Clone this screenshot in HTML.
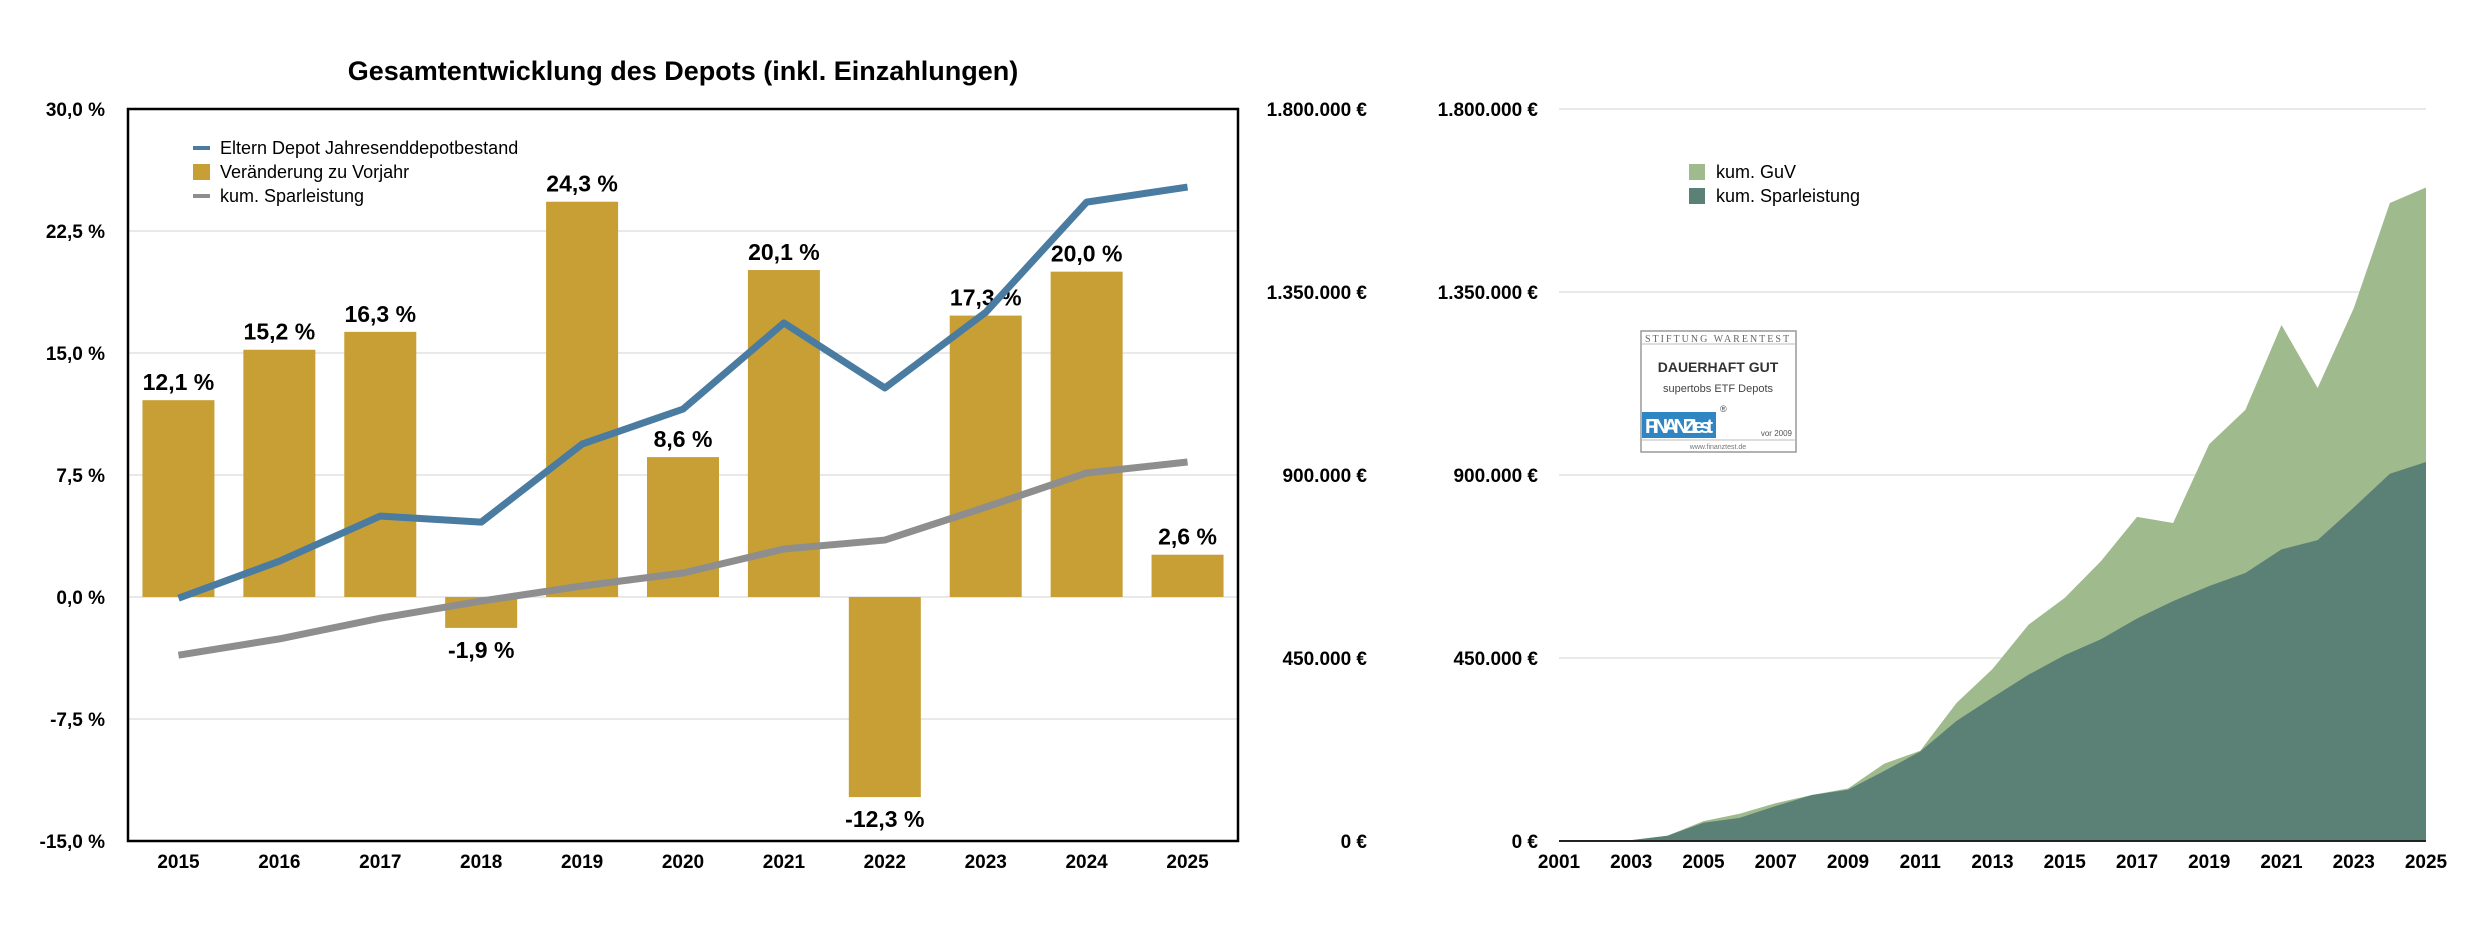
<!DOCTYPE html>
<html><head><meta charset="utf-8">
<style>
html,body{margin:0;padding:0;background:#fff;}
svg{display:block;font-family:"Liberation Sans",Arial,sans-serif;}
</style></head>
<body>
<svg id="c" width="2472" height="928" viewBox="0 0 2472 928" xmlns="http://www.w3.org/2000/svg">
<text x="683" y="80" text-anchor="middle" font-size="27" font-weight="bold">Gesamtentwicklung des Depots (inkl. Einzahlungen)</text>
<g id="left"></g>
<g id="right"></g>
</svg>
<script>
const years = ['2015','2016','2017','2018','2019','2020','2021','2022','2023','2024','2025'];
const pctChange = [12.1,15.2,16.3,-1.9,24.3,8.6,20.1,-12.3,17.3,20.0,2.6];
const depotValue = [597000,688000,799000,784000,976000,1062000,1274000,1114000,1300000,1571000,1608000];
const savingsLeft = [457000,497000,548000,590000,627000,659000,718000,740000,821000,905000,932000];
const pctTicks = [30,22.5,15,7.5,0,-7.5,-15];
const eurTicks = [1800000,1350000,900000,450000,0];

const areaYears = [];
for (let y=2001;y<=2025;y++) areaYears.push(y);
const areaTotal = [0,0,2000,13000,49000,67000,93000,113000,129000,190000,222000,339000,423000,532000,598000,688000,797000,782000,976000,1060000,1269000,1114000,1310000,1569000,1607000];
const areaSavings = [0,0,2000,13000,45000,57000,86000,113000,126000,172000,220000,295000,353000,409000,457000,496000,547000,590000,627000,659000,717000,740000,820000,903000,932000];

const NS='http://www.w3.org/2000/svg';
function mk(tag, attrs, parent, text){
  const e=document.createElementNS(NS,tag);
  for(const k in attrs) e.setAttribute(k,attrs[k]);
  if(text!==undefined) e.textContent=text;
  parent.appendChild(e); return e;
}
function fmtPct(v){return v.toFixed(1).replace('.',',')+' %';}
function fmtEur(v){return v.toString().replace(/\B(?=(\d{3})+(?!\d))/g,'.')+' €';}

// ---------- LEFT CHART ----------
const L=document.getElementById('left');
const px0=128, px1=1238, py0=109, py1=841;
const yP = v => py0 + (30 - v)/45*(py1-py0);
const yE = v => py1 - v/1800000*(py1-py0);
const band=(px1-px0)/years.length;
const xC = i => px0 + band*(i+0.5);

pctTicks.forEach((t,i)=>{
  if(t!==30 && t!==-15){
    const g=mk('line',{x1:px0,x2:px1,y1:yP(t),y2:yP(t),stroke:'#e2e2e2','stroke-width':1.5},L);
    
    
  }
  const tx=mk('text',{x:105,y:yP(t)+7,'text-anchor':'end','font-size':19,'font-weight':'bold'},L,fmtPct(t));
  
  
});
eurTicks.forEach(t=>{
  const tx=mk('text',{x:1367,y:yE(t)+7,'text-anchor':'end','font-size':19,'font-weight':'bold'},L,fmtEur(t));
  
  
});
years.forEach((yr,i)=>{
  const v=pctChange[i];
  const top=Math.min(yP(v),yP(0)), h=Math.abs(yP(v)-yP(0));
  const b=mk('rect',{x:xC(i)-36,y:top,width:72,height:h,fill:'#c89f35'},L);
  
  
  const ly = v>=0 ? yP(v)-10 : yP(v)+30;
  const t=mk('text',{x:xC(i),y:ly,'text-anchor':'middle','font-size':23,'font-weight':'bold'},L,fmtPct(v));
  
  
  const xl=mk('text',{x:xC(i),y:868,'text-anchor':'middle','font-size':19,'font-weight':'bold'},L,yr);
  
  
});
const gray=mk('polyline',{points:savingsLeft.map((v,i)=>xC(i)+','+yE(v)).join(' '),fill:'none',stroke:'#8e8e8e','stroke-width':7,'stroke-linejoin':'round'},L);


const blue=mk('polyline',{points:depotValue.map((v,i)=>xC(i)+','+yE(v)).join(' '),fill:'none',stroke:'#4a7ba1','stroke-width':7,'stroke-linejoin':'round'},L);


const frame=mk('rect',{x:px0,y:py0,width:px1-px0,height:py1-py0,fill:'none',stroke:'#000','stroke-width':2.5},L);


// legend
const leg=[['Eltern Depot Jahresenddepotbestand','#4a7ba1','line'],['Veränderung zu Vorjahr','#c89f35','box'],['kum. Sparleistung','#8e8e8e','line']];
leg.forEach((l,i)=>{
  const y=148+i*24;
  const s = l[2]==='line' ? mk('rect',{x:193,y:y-2,width:17,height:4,fill:l[1]},L) : mk('rect',{x:193,y:y-8,width:17,height:16,fill:l[1]},L);
  
  
  const t=mk('text',{x:220,y:y+6,'font-size':18},L,l[0]);
  
  
});

// ---------- RIGHT CHART ----------
const R=document.getElementById('right');
const rx0=1559, rx1=2426;
const xA = i => rx0 + i*(rx1-rx0)/(areaYears.length-1);
eurTicks.forEach(t=>{
  if(t>0){
    const g=mk('line',{x1:rx0,x2:rx1,y1:yE(t),y2:yE(t),stroke:'#e2e2e2','stroke-width':1.5},R);
    
    
  }
  const tx=mk('text',{x:1538,y:yE(t)+7,'text-anchor':'end','font-size':19,'font-weight':'bold'},R,fmtEur(t));
  
  
});
function areaPath(vals){
  let d='M'+xA(0)+','+yE(0);
  vals.forEach((v,i)=>{d+=' L'+xA(i)+','+yE(v);});
  d+=' L'+xA(vals.length-1)+','+yE(0)+' Z';
  return d;
}
const a1=mk('path',{d:areaPath(areaTotal),fill:'#9fba8c'},R);


const a2=mk('path',{d:areaPath(areaSavings),fill:'#5b8177'},R);


const ax=mk('line',{x1:rx0,x2:rx1,y1:yE(0),y2:yE(0),stroke:'#222','stroke-width':2},R);


areaYears.forEach((yr,i)=>{
  if(i%2===0){
    const t=mk('text',{x:xA(i),y:868,'text-anchor':'middle','font-size':19,'font-weight':'bold'},R,String(yr));
    
    
  }
});
[['kum. GuV','#9fba8c'],['kum. Sparleistung','#5b8177']].forEach((l,i)=>{
  const y=172+i*24;
  const s=mk('rect',{x:1689,y:y-8,width:16,height:16,fill:l[1]},R);
  
  
  const t=mk('text',{x:1716,y:y+6,'font-size':18},R,l[0]);
  
  
});
// badge
const B=mk('g',{},R);


mk('rect',{x:1641,y:331,width:155,height:121,fill:'#fff',stroke:'#999','stroke-width':1.5},B);
mk('line',{x1:1641,y1:344,x2:1796,y2:344,stroke:'#bbb','stroke-width':1},B);
mk('text',{x:1718,y:342,'text-anchor':'middle','font-size':10,'font-family':'Liberation Serif, serif','letter-spacing':'2',fill:'#666'},B,'STIFTUNG WARENTEST');
mk('text',{x:1718,y:372,'text-anchor':'middle','font-size':14,'font-weight':'bold',fill:'#333'},B,'DAUERHAFT GUT');
mk('text',{x:1718,y:392,'text-anchor':'middle','font-size':11,fill:'#444'},B,'supertobs ETF Depots');
mk('rect',{x:1642,y:412,width:74,height:26,fill:'#2f86c2'},B);
mk('text',{x:1645,y:433,'font-size':20,'font-weight':'bold',fill:'#fff',textLength:68},B,'FINANZtest');
mk('text',{x:1720,y:412,'font-size':9,fill:'#444'},B,'®');
mk('text',{x:1792,y:436,'text-anchor':'end','font-size':8,fill:'#555'},B,'vor 2009');
mk('line',{x1:1641,y1:440,x2:1796,y2:440,stroke:'#bbb','stroke-width':1},B);
mk('text',{x:1718,y:449,'text-anchor':'middle','font-size':7,fill:'#777'},B,'www.finanztest.de');
</script>
</body></html>
